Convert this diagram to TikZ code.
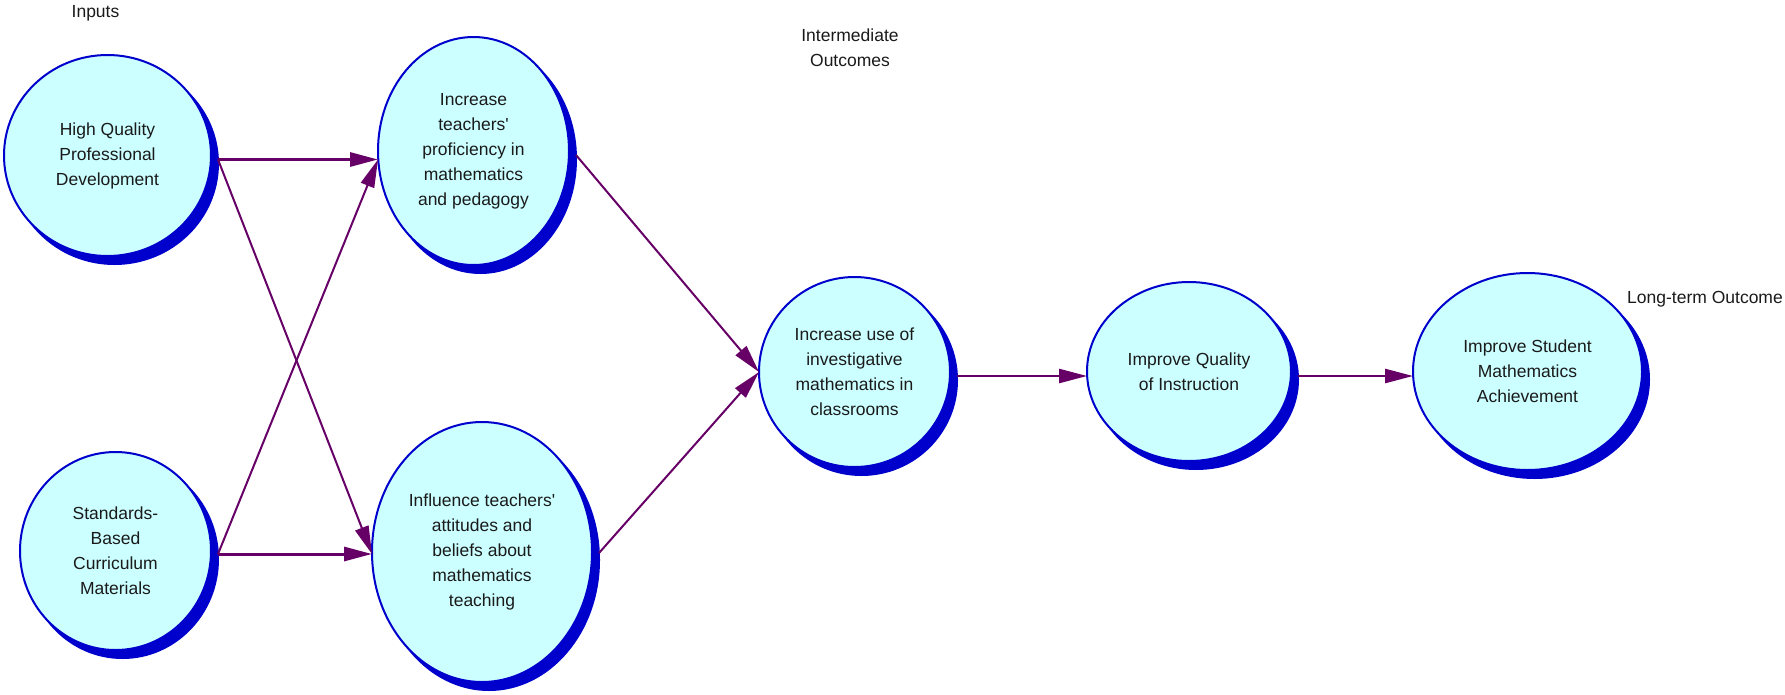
\documentclass[tikz,border=0pt]{standalone}
\usepackage{fontspec}
\setmainfont{Liberation Sans}
\usetikzlibrary{arrows.meta,calc,shapes.geometric,shadows}
\definecolor{nodefill}{HTML}{CCFFFF}
\definecolor{nodeline}{HTML}{0000CC}
\definecolor{arrowc}{HTML}{660066}
\definecolor{txt}{HTML}{1A1A1A}
\begin{document}
\begin{tikzpicture}[x=1pt,y=-1pt,
  bubble/.style={ellipse, draw=nodeline, line width=2pt, fill=nodefill,
    inner sep=0pt, outer sep=0pt, align=center, text=txt,
    font=\fontsize{17.5}{25}\selectfont,
    drop shadow={shadow xshift=7pt, shadow yshift=-8pt, fill=nodeline, draw=nodeline, opacity=1}},
  lbl/.style={inner sep=0pt, align=center, text=txt, font=\fontsize{17.5}{25}\selectfont},
  arrowbase/.style={draw=arrowc, -{Triangle[length=28pt,width=14pt]}, arrowc},
  heavyarrow/.style={arrowbase, line width=3pt},
  midarrow/.style={arrowbase, line width=2.5pt},
  lightarrow/.style={arrowbase, line width=2pt}
]
\useasboundingbox (0,0) rectangle (1785,694);

\node[bubble, minimum width=207pt, minimum height=201pt] (A) at (107.5,155.5) {High Quality\\Professional\\Development};
\node[bubble, minimum width=191pt, minimum height=228pt] (B) at (473.5,151) {Increase\\teachers\textquotesingle\\proficiency in\\mathematics\\and pedagogy};
\node[bubble, minimum width=191pt, minimum height=198pt] (C) at (115.5,551) {Standards-\\Based\\Curriculum\\Materials};
\node[bubble, minimum width=220pt, minimum height=260pt] (D) at (482,552) {Influence teachers\textquotesingle\\attitudes and\\beliefs about\\mathematics\\teaching};
\node[bubble, minimum width=191pt, minimum height=190pt] (E) at (854.5,372) {Increase use of\\investigative\\mathematics in\\classrooms};
\node[bubble, minimum width=204pt, minimum height=179pt] (F) at (1189,371.5) {Improve Quality\\of Instruction};
\node[bubble, minimum width=229pt, minimum height=197pt] (G) at (1527.5,371.5) {Improve Student\\Mathematics\\Achievement};

\node[lbl] (inputs) at (95.5,13) {Inputs};
\node[lbl] (inter) at (850,47.5) {Intermediate\\Outcomes};
\node[lbl, anchor=east] (lto) at (1783,299) {Long-term Outcome};

\coordinate (a1) at ($(A.east)+(7,4)$);
\coordinate (b1) at ($(B.east)+(7,4)$);
\coordinate (c1) at ($(C.east)+(7,3)$);
\coordinate (d1) at ($(D.east)+(7,1)$);
\coordinate (e1) at ($(E.east)+(7,4)$);
\coordinate (f1) at ($(F.east)+(7,4.5)$);

\draw[heavyarrow] (a1) -- (a1 -| B.west);
\draw[lightarrow] (a1) -- (c1 -| D.west);
\draw[lightarrow] (c1) -- (a1 -| B.west);
\draw[heavyarrow] (c1) -- (c1 -| D.west);
\draw[lightarrow] (b1) -- (E.west);
\draw[lightarrow] (d1) -- (E.west);
\draw[midarrow] (e1) -- (e1 -| F.west);
\draw[midarrow] (f1) -- (f1 -| G.west);
\end{tikzpicture}
\end{document}
